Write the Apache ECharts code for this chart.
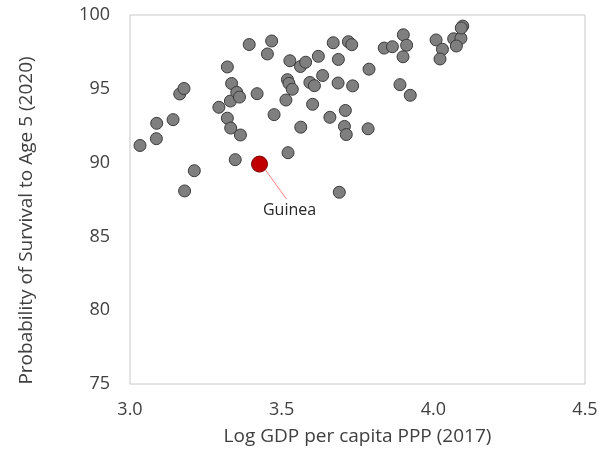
<!DOCTYPE html>
<html><head><meta charset="utf-8">
<script src="https://cdn.jsdelivr.net/npm/echarts@6/dist/echarts.min.js"></script>
<style>html,body{margin:0;padding:0;background:#fff}#c{width:611px;height:457px}</style>
</head><body><div id="c"></div>
<script>
const xTicks = [3.0, 3.5, 4.0, 4.5];
const yTicks = [75, 80, 85, 90, 95, 100];
const gdpLog = [3.033,3.087,3.088,3.142,3.164,3.178,3.212,3.180,3.321,3.335,3.293,3.321,3.331,3.352,3.361,3.332,3.364,3.347,3.393,3.467,3.453,3.419,3.475,3.527,3.562,3.579,3.621,3.519,3.524,3.535,3.593,3.608,3.514,3.602,3.563,3.521,3.635,3.670,3.720,3.731,3.687,3.788,3.838,3.865,3.901,3.912,3.900,4.009,4.030,4.022,4.067,4.091,4.076,4.097,4.092,3.686,3.734,3.890,3.924,3.710,3.659,3.707,3.713,3.785,3.690];
const survival = [91.16,91.62,92.66,92.91,94.65,95.02,89.45,88.08,96.48,95.36,93.75,93.01,94.17,94.76,94.44,92.34,91.87,90.20,98.00,98.24,97.36,94.67,93.25,96.90,96.51,96.80,97.20,95.62,95.37,94.97,95.43,95.21,94.24,93.95,92.40,90.67,95.90,98.12,98.19,97.99,96.99,96.33,97.76,97.85,98.66,97.95,97.17,98.31,97.68,97.02,98.39,98.42,97.90,99.25,99.12,95.39,95.20,95.28,94.56,93.53,93.07,92.45,91.90,92.29,87.99];
const highlightName = ['Guinea'];
const highlightX = [3.427];
const highlightY = [89.9];

const font = '"Open Sans", sans-serif';
const chart = echarts.init(document.getElementById('c'));
chart.setOption({
  animation: false,
  grid: {left: 130, right: 26, top: 15, bottom: 73, show: true, borderColor: '#c8c8c8', borderWidth: 1},
  xAxis: {
    type: 'value', min: xTicks[0], max: xTicks[xTicks.length-1], interval: 0.5,
    name: 'Log GDP per capita PPP (2017)', nameLocation: 'middle', nameGap: 43,
    nameTextStyle: {fontFamily: font, fontSize: 19, color: '#404040'},
    axisLine: {show: false}, axisTick: {show: false}, splitLine: {show: false},
    axisLabel: {fontFamily: font, fontSize: 18, color: '#404040', margin: 17, formatter: v => v.toFixed(1)}
  },
  yAxis: {
    type: 'value', min: yTicks[0], max: yTicks[yTicks.length-1], interval: 5,
    name: 'Probability of Survival to Age 5 (2020)', nameLocation: 'middle', nameGap: 94,
    nameTextStyle: {fontFamily: font, fontSize: 19, color: '#404040', padding: [0, 42, 0, 0]},
    axisLine: {show: false}, axisTick: {show: false}, splitLine: {show: false},
    axisLabel: {fontFamily: font, fontSize: 18, color: '#404040', margin: 20}
  },
  series: [
    {
      type: 'scatter', symbolSize: 12,
      data: gdpLog.map((x, i) => [x, survival[i]]),
      itemStyle: {color: '#7f7f7f', borderColor: '#3a3a3a', borderWidth: 1, opacity: 1}
    },
    {
      type: 'scatter', symbolSize: 16, z: 3,
      data: highlightX.map((x, i) => ({value: [x, highlightY[i]], name: highlightName[i]})),
      itemStyle: {color: '#c00000', borderColor: '#7a0000', borderWidth: 1, opacity: 1}
    }
  ]
});
const gfx = [];
highlightX.forEach((x, i) => {
  const p = chart.convertToPixel({seriesIndex: 1}, [x, highlightY[i]]);
  gfx.push({type: 'line', z: 1, shape: {x1: p[0] + 6, y1: p[1] + 6, x2: p[0] + 27, y2: p[1] + 35},
            style: {stroke: '#ff7c80', lineWidth: 1}});
  gfx.push({type: 'text', x: p[0] + 30, y: p[1] + 46,
            style: {text: highlightName[i], font: '16px ' + font, fill: '#262626', align: 'center', verticalAlign: 'middle'}});
});
chart.setOption({graphic: gfx});
</script></body></html>
